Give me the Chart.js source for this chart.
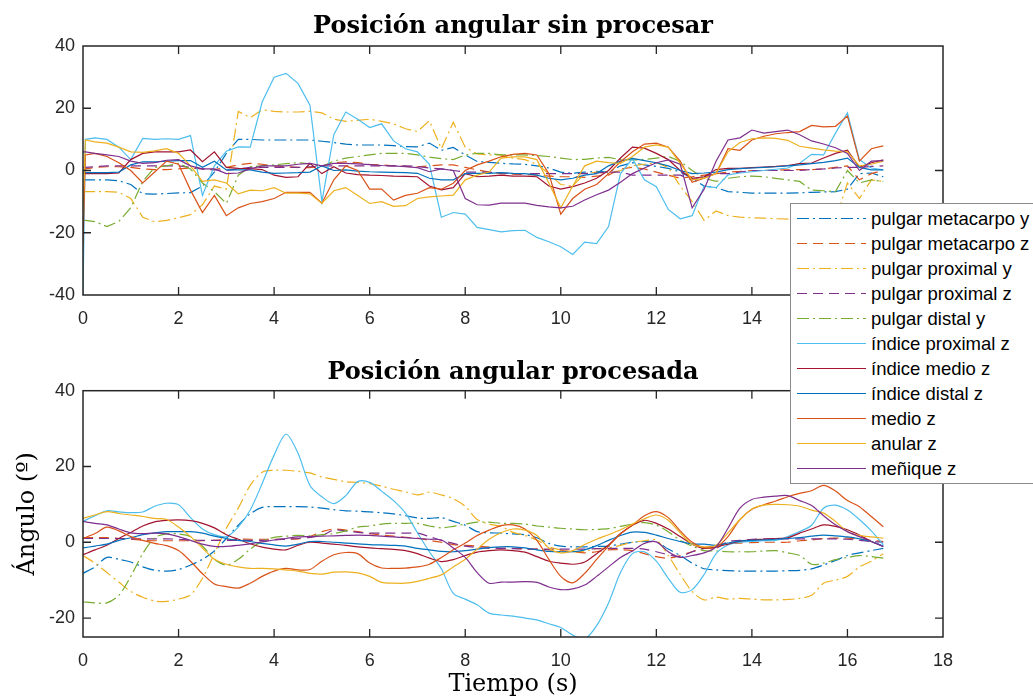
<!DOCTYPE html>
<html>
<head>
<meta charset="utf-8">
<script src="https://cdn.jsdelivr.net/npm/chart.js@4.4.1/dist/chart.umd.min.js"></script>
<style>
html,body{margin:0;padding:0;background:#fff;overflow:hidden;width:1033px;height:697px;}
#wrap{position:relative;width:1033px;height:697px;overflow:hidden;background:#fff;}
canvas{position:absolute;left:0;}
#c1{top:0;width:1033px;height:340px;}
#c2{top:340px;width:1033px;height:357px;}
#legend{position:absolute;left:790px;top:203px;width:270px;height:281px;box-sizing:border-box;border:1px solid #8a8a8a;background:#fff;z-index:5;}
#legend .row{position:absolute;left:6px;height:25px;display:flex;align-items:center;white-space:nowrap;}
#legend .row span{margin-left:4px;font-family:'Liberation Sans',Arial,sans-serif;font-size:18.5px;color:#000;line-height:25px;}
#legend svg{display:block;}
</style>
</head>
<body>
<div id="wrap">
<canvas id="c1" width="1033" height="340"></canvas>
<canvas id="c2" width="1033" height="357"></canvas>
<div id="legend"></div>
</div>
<script>
// ---------- tick labels ----------
const xTicks = [0, 2, 4, 6, 8, 10, 12, 14, 16, 18];
const yTicksRaw = [-40, -20, 0, 20, 40];
const yTicksProc = [-20, 0, 20, 40];

// ---------- series names ----------
const seriesNames = ['pulgar metacarpo y','pulgar metacarpo z','pulgar proximal y','pulgar proximal z','pulgar distal y','índice proximal z','índice medio z','índice distal z','medio z','anular z','meñique z'];

// ---------- time (s) ----------
const timeRaw = [0, 0.05, 0.25, 0.5, 0.75, 1, 1.25, 1.5, 1.75, 2, 2.25, 2.5, 2.75, 3, 3.25, 3.5, 3.75, 4, 4.25, 4.5, 4.75, 5, 5.25, 5.5, 5.75, 6, 6.25, 6.5, 6.75, 7, 7.25, 7.5, 7.75, 8, 8.25, 8.5, 8.75, 9, 9.25, 9.5, 9.75, 10, 10.25, 10.5, 10.75, 11, 11.25, 11.5, 11.75, 12, 12.25, 12.5, 12.75, 13, 13.25, 13.5, 13.75, 14, 14.25, 14.5, 14.75, 15, 15.25, 15.5, 15.75, 16, 16.25, 16.5, 16.75];
const timeProc = [0, 0.25, 0.5, 0.75, 1, 1.25, 1.5, 1.75, 2, 2.25, 2.5, 2.75, 3, 3.25, 3.5, 3.75, 4, 4.25, 4.5, 4.75, 5, 5.25, 5.5, 5.75, 6, 6.25, 6.5, 6.75, 7, 7.25, 7.5, 7.75, 8, 8.25, 8.5, 8.75, 9, 9.25, 9.5, 9.75, 10, 10.25, 10.5, 10.75, 11, 11.25, 11.5, 11.75, 12, 12.25, 12.5, 12.75, 13, 13.25, 13.5, 13.75, 14, 14.25, 14.5, 14.75, 15, 15.25, 15.5, 15.75, 16, 16.25, 16.5, 16.75];

// ---------- raw angles (top) ----------
const rawPulgarMetacarpoY = [-3,-3, -3,-3,-3.3,-4.5, -7.5,-7.6,-7.4,-7.2, -7.1,-5,-0.5,5.5, 10,10,9.8,9.8, 9.8,9.8,9.8,9.4, 9,8.5,8.2,8.2, 8.2,8,7.7,7.6, 8.8,6.5,7.4,5, 2.9,2.6,2.3,2.1, 2,1.5,0.8,-0.5, -0.9,-0.5,-0.3,-0.5, 1.5,2.5,1.8,1.3, 0.7,-0.5,-2.5,-5, -5.5,-6.8,-7,-7.3, -7.3,-7.3,-7.3,-7.2, -7,-6.9,-6.8,-6, -1,-0.8,-2];
const rawPulgarMetacarpoZ = [0,0.5, 1,1.2,1.2,1, 0.5,0.3,0.3,0.5, 0.8,0.5,0.3,1, 1.8,2.3,2,1.5, 1.2,1,0.9,1.5, 2.5,2.8,2.5,2, 1.8,1.5,1.3,1.2, 1.5,1.8,1.8,1, 0.2,-0.5,-1,-1.2, -1.3,-1.5,-1.8,-2, -2,-2.2,-1.8,-1.5, 0.5,1,0.5,-0.5, -1.5,-2.5,-2,-1.5, -1,-0.5,-0.3,0, 0,0.2,0.2,0.3, 0.3,0.5,1,1.5, -3,-1,0];
const rawPulgarProximalY = [-6.8,-6.8, -6.8,-6.8,-7,-9, -15,-16.5,-16,-15.2, -14.2,-11,-5,-6, 19,17,19.5,19, 18.8,18.8,19,18.5, 16.5,15.8,16.1,16.5, 15.8,15,13.4,12.5, 16,7,15.5,7.5, 5.3,5,5,4, 3.5,2,-1,-4.5, -5,-1,-0.5,-1, 0,1.5,2,2.5, 1,-5,-10,-16, -13,-14.5,-15,-15.2, -15.3,-15.5,-15.6,-15.7, -15.8,-15.8,-16,-4, -9,-3,-3.5];
const rawPulgarProximalZ = [1,1, 1.2,1.5,1.5,1.5, 1.5,1.5,1.5,1.5, 1,0.5,0.2,0, 0.5,1,1,1, 1,1,1.2,1.5, 1.5,1.5,1.5,1.5, 1.5,1.5,1.5,1.3, 0.8,0.5,0,-0.5, -0.5,-0.5,-0.8,-1, -1,-1,-1,-1, -1,-1,-0.8,-0.5, -0.5,-1.5,-1.5,-1.5, -1.5,-1.5,-3,-2, -1,-1,-0.5,0, 0,0,0,0, 0.3,0.5,0.8,1, 1,1.3,1.5];
const rawPulgarDistalY = [-16,-16, -16.4,-18,-16.4,-12, -3.5,1,1.5,2.3, 0.5,-4,-6.8,-10.6, -1.5,1.2,1.5,1.8, 2.2,2.5,2.1,1.3, 3,4,4.5,5, 5.5,5.5,5.5,5, 4.3,3.8,3.5,5, 5.5,5.5,5,5, 5,4.8,4.5,4, 3.5,3.6,4,4.2, 3.5,3.4,3.5,4, 4.5,3,0,-2.5, -3.5,-2.5,-2,-1.8, -2,-2.5,-3,-3.5, -6.3,-6.5,-6.8,0, -4,-3,-3.5];
const rawIndiceProximalZ = [-40,10, 10.5,10,7.5,3.5, 10.3,10,10.2,10, 11.2,-8,1.5,6.2, 7.6,7.5,22,30, 31.2,28,21,-10, 11.5,18.8,16.5,13.8, 15,9.5,7,6, 2,-15,-13.5,-14, -18.3,-19,-19.7,-19.3, -19.2,-21.5,-22.9,-24.5, -27,-23,-23.5,-18, -1,3.8,-3,-5.2, -12.5,-15.5,-14.5,-5, -5.5,-1.4,-0.8,-0.4, 0,0.4,0.8,2.3, 5.2,5,12,18.5, 3.5,0.8,0.2];
const rawIndiceMedioZ = [-1,-1, -1,-1,-0.8,3.5, 5.5,6,6,6, 6.6,2.8,6,1, 0.7,0.6,0.3,-1.5, -2.2,-2,2.3,-1, 1.2,-0.8,-1.3,-1.5, -1.6,-1.8,-1.9,-2, -5,-6.2,-5.5,-1, -2,-1.8,-1.5,-1.8, -1.8,-2,-5,-6, -5.2,-4,-2.5,0, 4,7.5,7.2,5.5, 3.5,0,-2.5,-2, 0.3,0.7,0.7,0.9, 1.1,1.3,1.6,2.2, 2.4,4,5.5,6.5, 1,2.5,3.4];
const rawIndiceDistalZ = [-0.7,-0.7, -0.7,-0.7,-0.5,1.8, 2.8,2.8,3,3.2, 3.2,1,3,0.2, 0.2,0.2,-0.5,-0.9, -0.8,-0.7,-0.5,1.5, 0,0.2,-0.2,-0.4, -0.5,-0.6,-0.7,-0.9, -2.5,-3,-3,-1, -0.9,-0.9,-0.7,-0.9, -1,-1.5,-2.5,-3, -2.5,-1.5,-1,1.5, 3,3.9,3.2,2.5, 1.5,0,-1,-0.8, -0.5,0.3,0.6,0.8, 1,1.2,1.5,1.8, 2.2,2.6,3.2,4, 1,0.2,0.2];
const rawMedioZ = [-24,5, 5.5,4.5,2.5,0, -4,-0.5,3,2, -6.3,-13.5,-8,-14.5, -12,-10.6,-10,-9, -7,-7,-7,-10.5, -3,1.5,0,-6, -6,-9.5,-8,-7.3, -5.5,-6,-4.1,0, 1.8,3,4.4,5.2, 5.5,5,-1,-14, -9,-6,-4.5,-1, 2.8,6,8.5,8.8, 7.5,3,-3.8,-2.5, -1,7,6.5,9.8, 11,11.8,12.2,12.5, 14.5,14,14.2,17.5, 3,7,7.9];
const rawAnularZ = [-14,9.8, 9.2,8.8,7.5,6, 5.8,6.3,7,5.5, 1.5,-3.5,-3,-4, -7.5,-6.3,-6.5,-5.5, -7.3,-7.3,-7.5,-10.5, -6.5,-5.5,-8,-10.6, -10,-11.5,-11.3,-9, -8.5,-8.2,-7.9,-3, -1.5,-0.5,4,4.4, 4.4,3.5,-4,-12, -5,1.5,3,2.5, 2.3,4.5,7.5,8.2, 7.5,2.3,-3,-2.5, -1,6,9,10.2, 10.5,10.3,9.7,7.8, 7.2,6.6,6.2,6, 1.5,2,3];
const rawMeniqueZ = [6,6, 5.5,5,4.5,3, 2.3,2.5,3.3,3.5, 1.5,0.5,0.5,-1, -0.8,0.5,1.5,1.5, 1.5,2,2.3,1.5, 2.3,2.3,2.1,1.9, 1.6,1.5,1.2,0.9, -0.4,0.5,0,-9, -11,-11.1,-10.5,-10.5, -10.5,-11.2,-11.7,-12, -11.5,-9.5,-7.8,-6.3, -3.8,-1,0.8,2.5, 3.4,2,-12,-6, 3,9.8,10.5,13, 12,12.5,13,11.5, 9.5,8.5,7.3,5.5, 0,3,3.2];

// ---------- processed angles (bottom) ----------
const procPulgarMetacarpoY = [-8.2,-6.5,-4,-4.5, -5.2,-6.5,-7.4,-7.6, -7.2,-6,-4.5,-2.3, 1,4.5,7.5,9.2, 9.4,9.4,9.4,9.3, 9,8.6,8.3,8.2, 8,7.8,7.5,7, 6.4,6.3,6.5,5.5, 4.5,2.8,2.5,2.4, 2.2,2,1.2,-0.3, -1,-1.2,-1.2,-1.1, -1,-0.5,0,0.2, 0.1,-1.8,-3.5,-5.5, -7,-7.3,-7.5,-7.6, -7.6,-7.6,-7.6,-7.5, -7.4,-7,-6,-4.8, -3.5,-2.8,-2.2,-1.6];
const procPulgarMetacarpoZ = [1.2,1.2,1.2,1, 0.8,0.5,0.4,0.4, 0.4,0.4,0.4,0.5, 0.6,0.8,0.8,0.8, 0.8,0.8,0.9,1.5, 2.8,3.5,3.2,2.8, 2.3,1.9,1.6,1.3, 1.1,0.5,0,-0.6, -0.8,-1,-1.3,-1.6, -1.6,-1.7,-1.8,-2, -2.2,-2.5,-2.8,-2.5, -2,-2,-2.2,-3, -3.8,-4.2,-3.5,-2.5, -1.5,-0.8,-0.3,-0.2, -0.1,0,0,0, 0.4,0.6,1,1.1, 1.1,0.8,0.5,0.2];
const procPulgarProximalY = [-3.5,-5.5,-8,-10.5, -13,-14.5,-15.5,-15.6, -15,-13.9,-9.5,-3, 3.7,9,15,18.5, 19,19,18.7,18.3, 17.2,16.6,16,15.8, 15.5,14.8,14,13.3, 12.5,13.2,12.5,11.5, 9.5,6,4.8,4.2, 2.6,1.8,0.6,-1.2, -2,-2.5,-2.3,-1.7, -1.5,-0.8,0,0.4, 0.6,-3.5,-8.5,-13, -15.2,-14.5,-15,-14.8, -15,-15.2,-15.2,-15.1, -14.8,-14,-10.8,-10, -9,-6.5,-5,-3];
const procPulgarProximalZ = [1,1,1,1, 0.9,0.9,0.9,0.9, 0.8,0.6,0.5,0.5, 0.5,0.5,0.5,0.5, 0.6,0.8,1,1.3, 1.8,3.2,3,2.6, 2.4,2.4,2.4,2.4, 2.4,1.5,0.5,-0.3, -1,-1.4,-1.6,-1.6, -1.7,-1.8,-1.8,-1.8, -1.8,-1.8,-1.8,-1.7, -1.6,-1.6,-1.6,-1.8, -2.5,-3.3,-3.8,-2.5, -1.6,-1.6,0.2,0.5, 0.8,0.9,0.9,0.9, 0.9,0.9,0.9,0.9, 0.8,0.5,0.2,0];
const procPulgarDistalY = [-15.7,-16,-16,-14, -9,-3,1.2,2.2, 2.2,1.5,-1,-4.5, -6,-4.5,-1.8,0.3, 1.3,1.6,1.8,1.7, 2,2.3,3,4, 4.3,4.8,5,5, 5,4.3,3.8,4.2, 4.8,5.3,5.3,5, 5,4.8,4.3,4, 3.7,3.5,3.3,3.4, 3.6,4.2,4.8,5.2, 4.5,2.8,0.5,-1, -2.2,-2.3,-2.5,-2.5, -2.5,-2.3,-2.2,-2.8, -3.5,-5.8,-5.5,-4.6, -4,-3.5,-3.8,-4.2];
const procIndiceProximalZ = [5.5,7,8.3,8, 7.8,8,9.5,10.3, 9.9,6.5,3.5,2, 1.5,4,8.5,15.5, 23,28.5,23.5,15, 12,10.2,12.3,16, 15.8,13.5,11,7.7, 2.5,-2.5,-7,-13.5, -15,-16.5,-18.7,-19.2, -19.5,-20,-20.5,-21.5, -22.5,-24.5,-25.5,-22, -16,-8,-3,-2.5, -5,-9.5,-13.2,-12.5, -8.5,-3,-0.7,0, 0.2,0.4,0.5,1.5, 2.8,4.5,9,9.8, 8.5,6,3,-0.7];
const procIndiceMedioZ = [-3.3,-2,-0.8,1, 2.6,4.3,5.4,5.8, 5.9,5.7,5,3.8, 2,0.8,-0.4,-1.3, -1.8,-2,-0.8,0, -0.2,-0.5,-0.8,-1.2, -1.5,-1.7,-1.9,-2.2, -3,-4.2,-5.1,-4.6, -3.5,-2.6,-2.2,-2, -2.2,-2.6,-3.8,-5, -5.5,-5.8,-5.2,-3, -0.7,2.3,4.5,5.8, 5,3.5,1.5,-0.5, -1.6,-1.2,-0.5,0.3, 0.6,0.8,1,1.2, 2.4,3.5,4.6,4.2, 3.3,1.9,0.2,-1.1];
const procIndiceDistalZ = [-1.5,-1,-0.5,0.5, 1.2,2,2.5,2.8, 2.8,2.8,2.4,1.6, 1,0.5,0.2,-0.3, -0.7,-1,-0.5,0.2, 0.2,0,-0.2,-0.4, -0.6,-0.7,-0.8,-1, -1.6,-2,-2.4,-2.5, -2.2,-1.8,-1.4,-1.2, -1.2,-1.5,-2,-2.4, -2.5,-2.5,-2,-0.9, 0.5,1.8,2.7,2.6, 1.9,1,0.2,-0.4, -0.5,-0.8,-0.2,0.3, 0.5,0.6,0.8,1, 1.2,1.6,1.9,1.7, 1.4,0.9,0.2,-1];
const procMedioZ = [1,2.3,4,3, 1.5,0.5,-0.3,-0.9, -2.2,-5,-8.3,-11, -11.7,-12.1,-10.8,-9, -7.6,-6.9,-7.3,-7.2, -5,-3.3,-2.7,-3, -5.5,-6.8,-6.9,-6.8, -6.5,-5.8,-4,-2, -0.2,1.8,3.2,4.4, 4.6,3.5,0.5,-4.5, -9,-10.7,-8.2,-4.5, -1,2.2,4.5,7, 8.1,6.5,3,0, -1.4,-1.3,1.5,6, 8.7,9.9,10.9,12, 12.9,13.6,15,13.5, 11,9.4,6.8,4.1];
const procAnularZ = [6.3,7.2,8.1,7.6, 7.2,6.8,6.3,6, 4,1.5,-1.5,-4.5, -5.8,-6.5,-6.9,-6.9, -7,-7.3,-7.6,-8.2, -8.4,-7.9,-7.8,-8.1, -9,-10.6,-10.8,-10.8, -10.3,-9.5,-8.6,-6.5, -4.5,-1.8,0.8,2.5, 3.5,3.2,1.8,-1.5, -2.8,-2.2,-0.6,0.8, 2,3.3,4.8,6.2, 7.2,5.8,2.5,-0.5, -1.2,-0.8,2.5,6, 8.8,9.8,10,9.9, 9.5,8.5,7.7,5.5, 2.8,1.8,1.4,1.1];
const procMeniqueZ = [5.5,5,4.6,3.5, 2.5,2.3,2.4,2.2, 1.5,0.5,-0.5,-1.1, -1.1,-0.8,-0.4,0.1, 0.6,1,1.4,1.5, 1.6,1.7,1.8,1.9, 1.8,1.6,1.4,1.2, 1,0.8,0.6,-1.5, -4,-8,-10.8,-10.5, -10.5,-10.4,-10.6,-11.8, -12.5,-12.3,-11.3,-9, -6.5,-4,-2.3,-0.3, 0.1,-2.5,-4,-3.5, -2.8,-1.2,3.7,9, 11.3,11.9,12.2,12.3, 11,9.7,7,4.6, 2.8,1.5,0.2,-1.1];

// ---------- styles ----------
const seriesColors = ['#0072BD','#D95319','#EDB120','#7E2F8E','#77AC30','#4DBEEE','#A2142F','#0072BD','#D95319','#EDB120','#7E2F8E'];
const dashDot = [12, 4, 2, 4];
const dashed = [10, 6];
const seriesDash = [dashDot, dashed, dashDot, dashed, dashDot, [], [], [], [], [], []];

const rawSeries = [rawPulgarMetacarpoY, rawPulgarMetacarpoZ, rawPulgarProximalY, rawPulgarProximalZ, rawPulgarDistalY, rawIndiceProximalZ, rawIndiceMedioZ, rawIndiceDistalZ, rawMedioZ, rawAnularZ, rawMeniqueZ];
const procSeries = [procPulgarMetacarpoY, procPulgarMetacarpoZ, procPulgarProximalY, procPulgarProximalZ, procPulgarDistalY, procIndiceProximalZ, procIndiceMedioZ, procIndiceDistalZ, procMedioZ, procAnularZ, procMeniqueZ];

const AXIS_COLOR = '#262626';
const TICK_FONT = {family: "'Liberation Sans', Arial, sans-serif", size: 18};
const SERIF = "'DejaVu Serif', 'Liberation Serif', serif";

function makeDatasets(times, series, tension) {
  return series.map((vals, i) => ({
    label: seriesNames[i],
    data: times.map((t, k) => ({x: t, y: vals[k]})),
    borderColor: seriesColors[i],
    backgroundColor: seriesColors[i],
    borderWidth: 1.2,
    borderDash: seriesDash[i],
    pointRadius: 0,
    fill: false,
    tension: tension,
    order: series.length - i
  }));
}

// MATLAB-like box with inward ticks on all four sides
const matlabBox = {
  id: 'matlabBox',
  afterDatasetsDraw(chart) {
    const {ctx, chartArea: a, scales} = chart;
    const xs = scales.x, ys = scales.y;
    const L = 8;
    ctx.save();
    ctx.strokeStyle = AXIS_COLOR;
    ctx.lineWidth = 1.3;
    ctx.setLineDash([]);
    ctx.beginPath();
    xs.ticks.forEach(t => {
      const px = xs.getPixelForValue(t.value);
      if (px <= a.left + 1 || px >= a.right - 1) return;
      ctx.moveTo(px, a.bottom); ctx.lineTo(px, a.bottom - L);
      ctx.moveTo(px, a.top); ctx.lineTo(px, a.top + L);
    });
    ys.ticks.forEach(t => {
      const py = ys.getPixelForValue(t.value);
      if (py <= a.top + 1 || py >= a.bottom - 1) return;
      ctx.moveTo(a.left, py); ctx.lineTo(a.left + L, py);
      ctx.moveTo(a.right, py); ctx.lineTo(a.right - L, py);
    });
    ctx.stroke();
    ctx.lineWidth = 1.5;
    ctx.strokeRect(a.left, a.top, a.right - a.left, a.bottom - a.top);
    ctx.restore();
  }
};

function makeOptions(cfg) {
  return {
    responsive: false,
    animation: false,
    devicePixelRatio: 1,
    events: [],
    layout: {padding: {left: 0, right: 90, top: 0, bottom: 0}},
    plugins: {
      legend: {display: false},
      tooltip: {enabled: false},
      title: {
        display: true, text: cfg.title, fullSize: false, color: '#000',
        font: {family: SERIF, size: 24, weight: 'bold', lineHeight: 1.2},
        padding: cfg.titlePad
      }
    },
    scales: {
      x: {
        type: 'linear', min: 0, max: 18,
        afterBuildTicks: s => { s.ticks = xTicks.map(v => ({value: v})); },
        afterFit: s => { s.height = cfg.xHeight; },
        grid: {display: false, drawTicks: false},
        border: {display: false},
        ticks: {font: TICK_FONT, color: AXIS_COLOR, padding: 13, maxRotation: 0, autoSkip: false},
        title: cfg.xTitle
      },
      y: {
        type: 'linear', min: cfg.yMin, max: cfg.yMax,
        afterBuildTicks: s => { s.ticks = cfg.yTicks.map(v => ({value: v})); },
        afterFit: s => { s.width = 83; },
        grid: {display: false, drawTicks: false},
        border: {display: false},
        ticks: {font: TICK_FONT, color: AXIS_COLOR, padding: 8, autoSkip: false},
        title: cfg.yTitle
      }
    }
  };
}

new Chart(document.getElementById('c1'), {
  type: 'line',
  data: {datasets: makeDatasets(timeRaw, rawSeries, 0)},
  options: makeOptions({
    title: 'Posición angular sin procesar',
    titlePad: {top: 12.6, bottom: 4.6},
    xHeight: 45,
    yMin: -40, yMax: 40, yTicks: yTicksRaw,
    xTitle: {display: false},
    yTitle: {display: false}
  }),
  plugins: [matlabBox]
});

new Chart(document.getElementById('c2'), {
  type: 'line',
  data: {datasets: makeDatasets(timeProc, procSeries, 0.3)},
  options: makeOptions({
    title: 'Posición angular procesada',
    titlePad: {top: 18.6, bottom: 3.3},
    xHeight: 60,
    yMin: -25, yMax: 40, yTicks: yTicksProc,
    xTitle: {display: true, text: 'Tiempo (s)', color: '#000', font: {family: SERIF, size: 24, lineHeight: 1}, padding: {top: 0, bottom: 0}},
    yTitle: {display: true, text: 'Ángulo (º)', color: '#000', font: {family: SERIF, size: 24, lineHeight: 1}, padding: {top: 16, bottom: 0}}
  }),
  plugins: [matlabBox]
});

// ---------- legend ----------
const leg = document.getElementById('legend');
seriesNames.forEach((name, i) => {
  const row = document.createElement('div');
  row.className = 'row';
  row.style.top = (1.8 + i * 25) + 'px';
  const svgNS = 'http://www.w3.org/2000/svg';
  const svg = document.createElementNS(svgNS, 'svg');
  svg.setAttribute('width', '70'); svg.setAttribute('height', '25');
  const ln = document.createElementNS(svgNS, 'line');
  ln.setAttribute('x1', '0'); ln.setAttribute('x2', '69');
  ln.setAttribute('y1', '12.5'); ln.setAttribute('y2', '12.5');
  ln.setAttribute('stroke', seriesColors[i]);
  ln.setAttribute('stroke-width', '1.2');
  if (seriesDash[i].length) ln.setAttribute('stroke-dasharray', seriesDash[i].join(' '));
  svg.appendChild(ln);
  const sp = document.createElement('span');
  sp.textContent = name;
  row.appendChild(svg); row.appendChild(sp);
  leg.appendChild(row);
});
</script>
</body>
</html>
